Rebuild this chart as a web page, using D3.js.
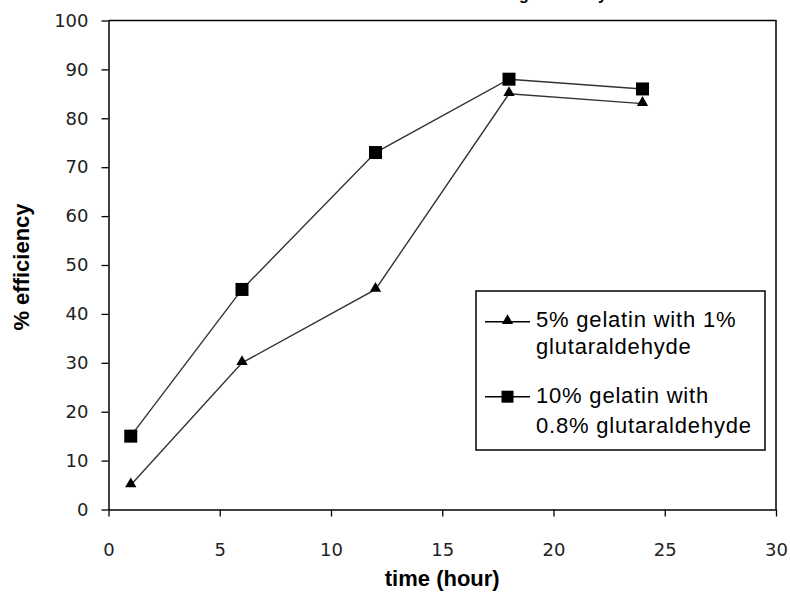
<!DOCTYPE html>
<html>
<head>
<meta charset="utf-8">
<script src="https://cdn.jsdelivr.net/npm/d3@7"></script>
<style>
  html, body { margin: 0; padding: 0; background: #fff; }
  svg { display: block; }
</style>
</head>
<body>
<svg id="chart" width="790" height="592"></svg>
<script>
// ---- data ----
const timeHours = [1, 6, 12, 18, 24];
const series1Name = ["5% gelatin with 1%", "glutaraldehyde"];
const series1Values = [5, 30, 45, 85, 83];
const series2Name = ["10% gelatin with", "0.8% glutaraldehyde"];
const series2Values = [15, 45, 73, 88, 86];
const xTicks = [0, 5, 10, 15, 20, 25, 30];
const yTicks = [0, 10, 20, 30, 40, 50, 60, 70, 80, 90, 100];
const titleText = "Cross-linking efficiency";
const xTitle = "time (hour)";
const yTitle = "% efficiency";

(function () {
const svg = d3.select("#chart");
const pL = 108.5, pR = 776, pT = 20.5, pB = 509.5;

const x = d3.scaleLinear().domain([0, 30]).range([pL, pR]);
const y = d3.scaleLinear().domain([0, 100]).range([pB, pT]);

// title (cut off at the top edge in the reference: only descenders show)
svg.append("text")
  .attr("x", 607).attr("y", -0.5)
  .attr("text-anchor", "end")
  .attr("font-family", "Liberation Sans, Arial, sans-serif")
  .attr("font-weight", "bold")
  .attr("font-size", 16)
  .attr("fill", "#000")
  .text(titleText);

// plot frame (top & right)
svg.append("path")
  .attr("d", `M${pL},${pT}H${pR}V${pB}`)
  .attr("fill", "none").attr("stroke", "#000").attr("stroke-width", 1.5);

// axes
const tickFont = "DejaVu Sans, Verdana, sans-serif";
const yAxis = d3.axisLeft(y).tickValues(yTicks).tickSize(7).tickPadding(13).tickSizeOuter(0);
const gy = svg.append("g").attr("transform", `translate(${pL},0)`).call(yAxis);
const xAxis = d3.axisBottom(x).tickValues(xTicks).tickSize(7).tickPadding(27).tickSizeOuter(0);
const gx = svg.append("g").attr("transform", `translate(0,${pB})`).call(xAxis);
[gx, gy].forEach(g => {
  g.select(".domain").attr("stroke", "#000").attr("stroke-width", 1.5);
  g.selectAll(".tick line").attr("stroke", "#000").attr("stroke-width", 1.3);
  g.selectAll(".tick text")
    .attr("font-family", tickFont).attr("font-size", 18).attr("fill", "#222");
});

// axis titles
svg.append("text")
  .attr("x", (pL + pR) / 2).attr("y", 586)
  .attr("text-anchor", "middle")
  .attr("font-family", "Liberation Sans, Arial, sans-serif")
  .attr("font-weight", "bold").attr("font-size", 22)
  .text(xTitle);
svg.append("text")
  .attr("transform", `translate(29,${(pT + pB) / 2 + 2}) rotate(-90)`)
  .attr("text-anchor", "middle")
  .attr("font-family", "Liberation Sans, Arial, sans-serif")
  .attr("font-weight", "bold").attr("font-size", 22)
  .text(yTitle);

// lines
const line = d3.line().x((d, i) => x(timeHours[i])).y(d => y(d));
[series1Values, series2Values].forEach(vals => {
  svg.append("path").datum(vals)
    .attr("d", line)
    .attr("fill", "none").attr("stroke", "#333").attr("stroke-width", 1.4);
});

// markers
const tri = d3.symbol().type(d3.symbolTriangle).size(55);
svg.append("g").selectAll("path").data(series1Values).join("path")
  .attr("d", tri)
  .attr("transform", (d, i) => `translate(${x(timeHours[i])},${y(d) - 1})`)
  .attr("fill", "#000");
const sq = 13;
svg.append("g").selectAll("rect").data(series2Values).join("rect")
  .attr("x", (d, i) => x(timeHours[i]) - sq / 2)
  .attr("y", d => y(d) - sq / 2)
  .attr("width", sq).attr("height", sq)
  .attr("fill", "#000");

// legend
const lg = svg.append("g");
lg.append("rect").attr("x", 476).attr("y", 291).attr("width", 289).attr("height", 159)
  .attr("fill", "#fff").attr("stroke", "#000").attr("stroke-width", 1.5);
const legendFont = "Liberation Sans, Arial, sans-serif";
const rows = [
  { name: series1Name, ly: 321.7, base: [327, 354], mk: "tri" },
  { name: series2Name, ly: 396.7, base: [403, 433], mk: "sq" }
];
rows.forEach(r => {
  lg.append("line").attr("x1", 485).attr("x2", 530).attr("y1", r.ly).attr("y2", r.ly)
    .attr("stroke", "#000").attr("stroke-width", 1.4);
  if (r.mk === "tri") {
    lg.append("path").attr("d", tri).attr("transform", `translate(507.5,${r.ly - 1})`).attr("fill", "#000");
  } else {
    lg.append("rect").attr("x", 507.5 - 6).attr("y", r.ly - 6).attr("width", 12).attr("height", 12).attr("fill", "#000");
  }
  r.name.forEach((t, k) => {
    lg.append("text").attr("x", 536).attr("y", r.base[k])
      .attr("font-family", legendFont).attr("font-size", 22)
      .attr("letter-spacing", 0.8).attr("fill", "#000")
      .text(t);
  });
});
})();
</script>
</body>
</html>
